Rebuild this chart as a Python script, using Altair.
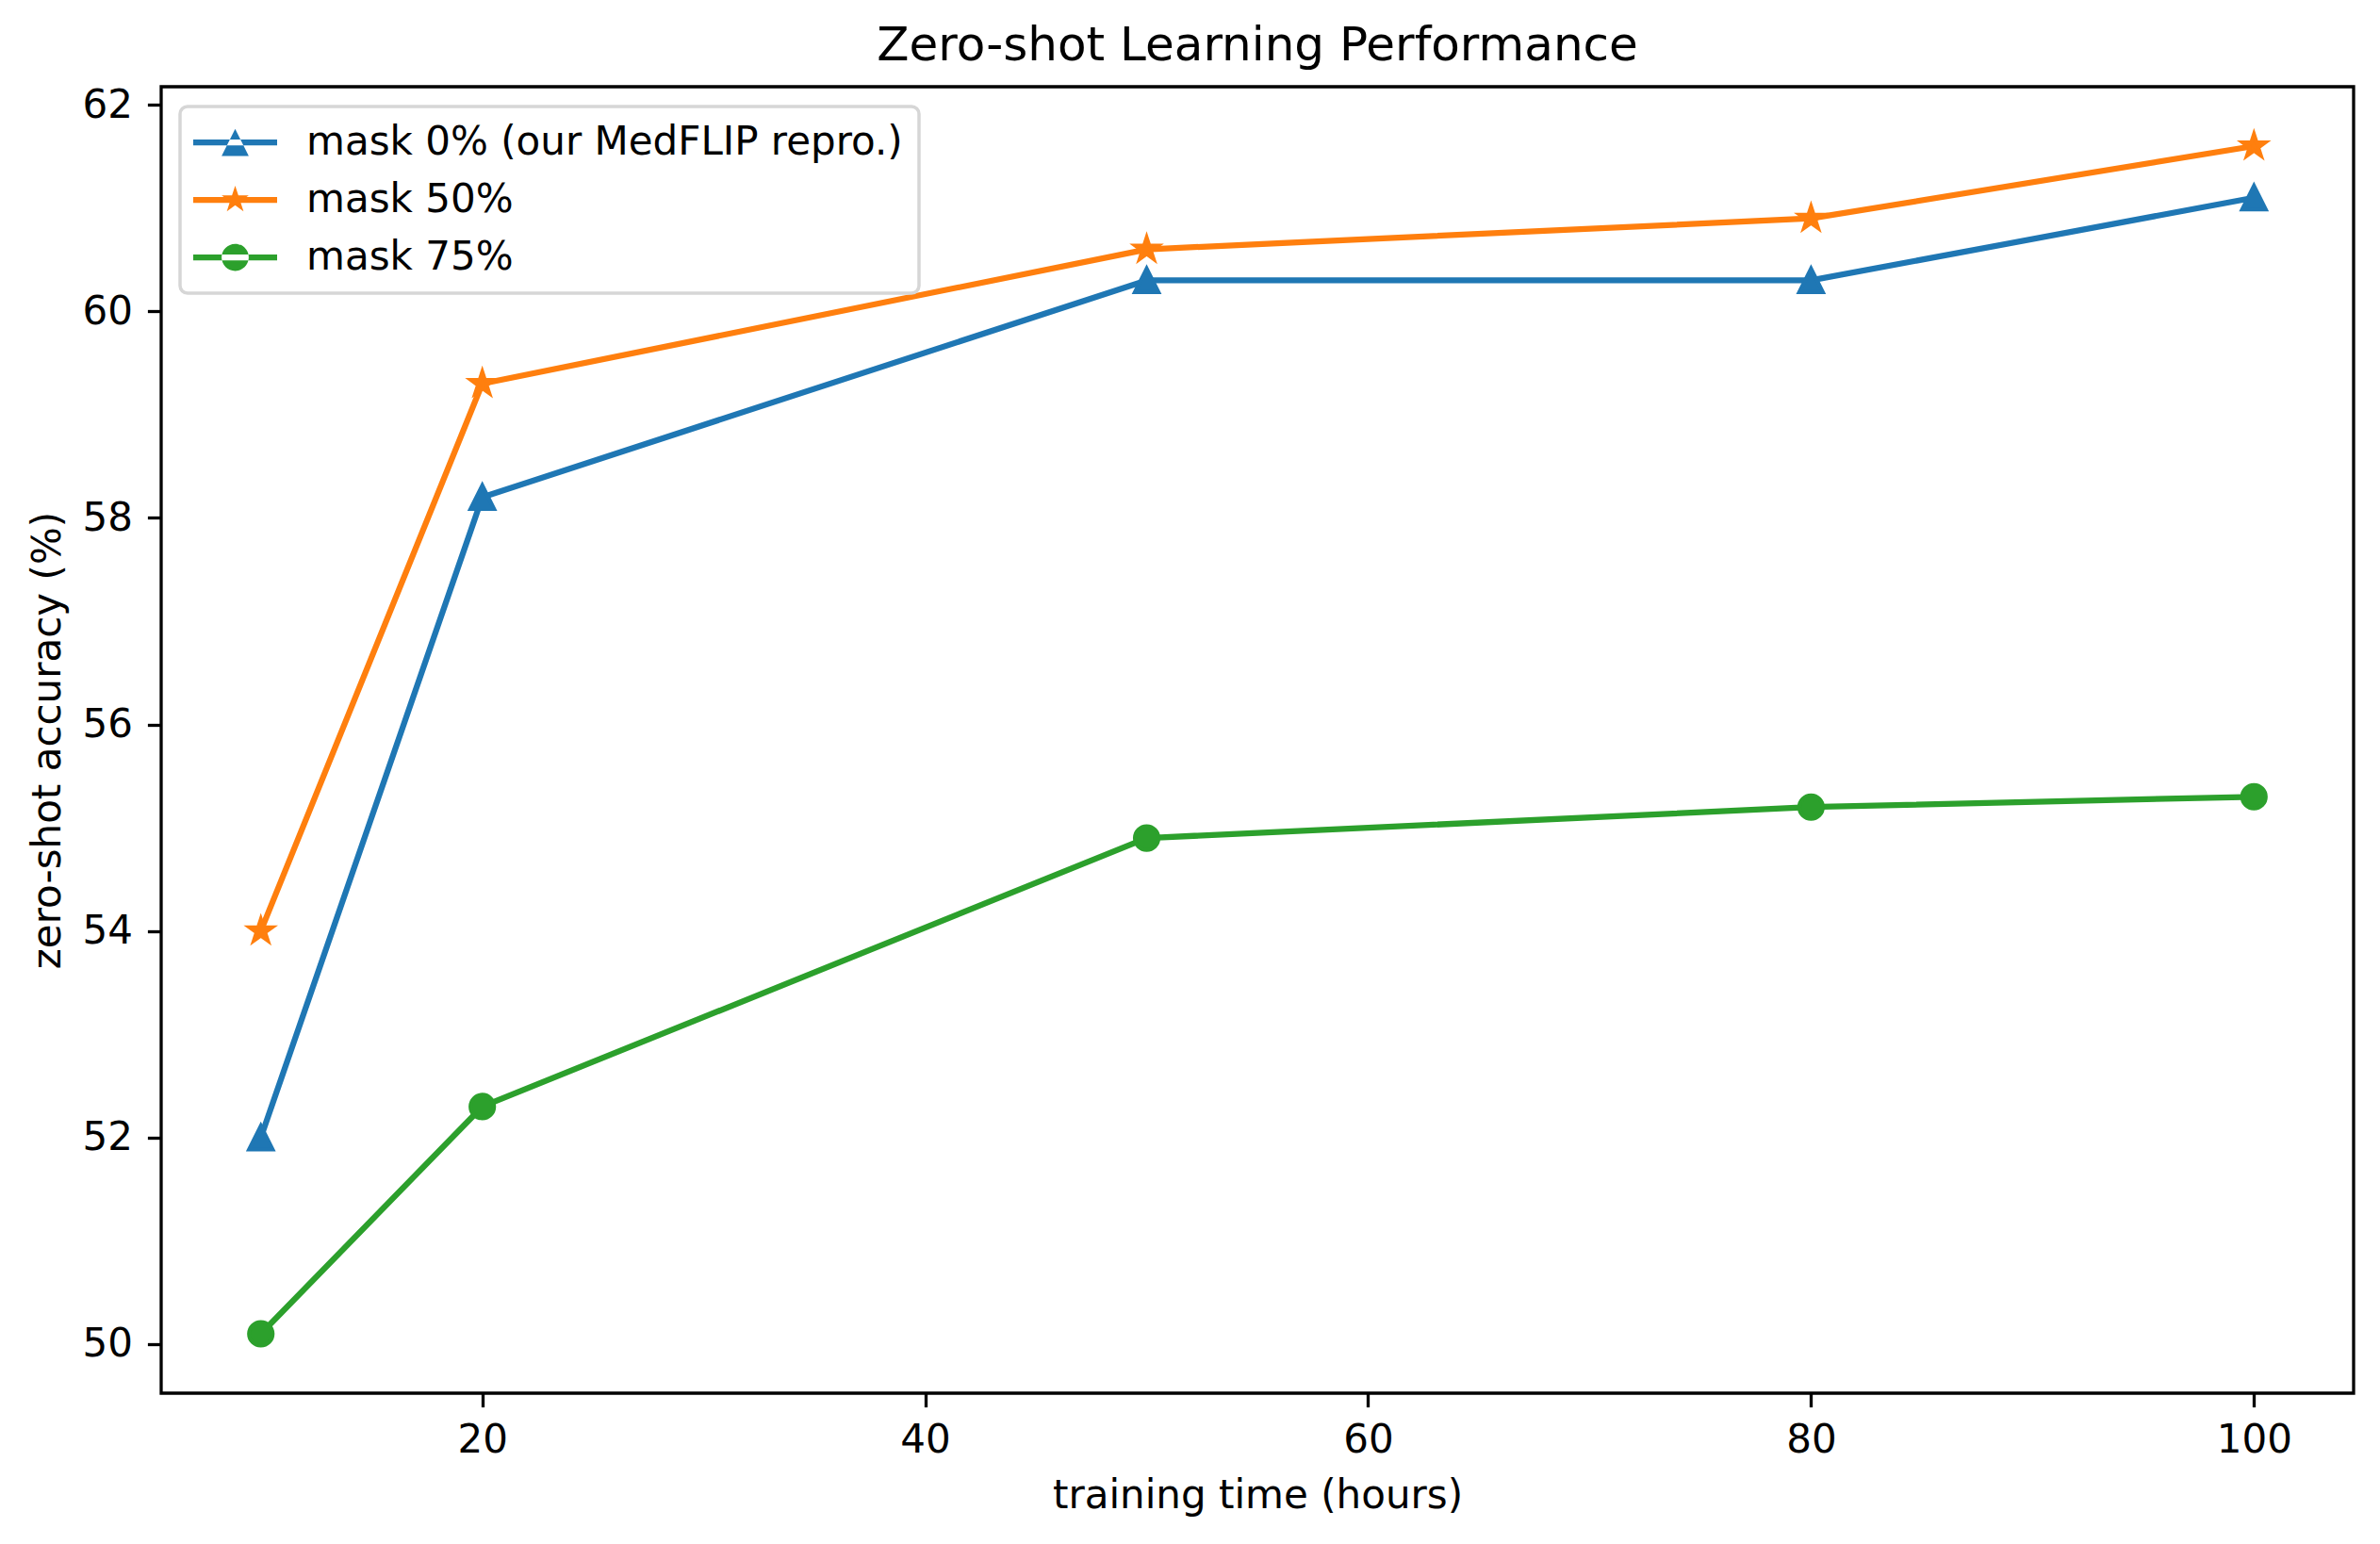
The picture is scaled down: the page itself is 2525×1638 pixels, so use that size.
import math
import altair as alt
import pandas as pd

# ---------------- data ----------------
hours = [10, 20, 50, 80, 100]
mask0 = [52.0, 58.2, 60.3, 60.3, 61.1]
mask50 = [54.0, 59.3, 60.6, 60.9, 61.6]
mask75 = [50.1, 52.3, 54.9, 55.2, 55.3]
series_names = ["mask 0% (our MedFLIP repro.)", "mask 50%", "mask 75%"]
colors = ["#1f77b4", "#ff7f0e", "#2ca02c"]
x_ticks = [20, 40, 60, 80, 100]
y_ticks = [50, 52, 54, 56, 58, 60, 62]

rows = []
for name, vals in zip(series_names, [mask0, mask50, mask75]):
    for h, v in zip(hours, vals):
        rows.append({"hours": h, "acc": v, "series": name})
df = pd.DataFrame(rows)

FONT = "DejaVu Sans"


# ---------------- marker shapes (matplotlib geometry, unit box) ----------------
def f(v):
    return f"{v:.4f}"


def tri_path(s=1.0, dx=0.0):
    return f"M{f(dx)},{f(-s)}L{f(dx - s)},{f(s)}L{f(dx + s)},{f(s)}Z"


def star_path(s=1.0, dx=0.0):
    pts = []
    for k in range(10):
        r = s if k % 2 == 0 else s * 0.381966
        th = math.radians(36 * k)
        pts.append((dx + r * math.sin(th), -r * math.cos(th)))
    return "M" + "L".join(f"{f(x)},{f(y)}" for x, y in pts) + "Z"


def circle_path(s=1.0, dx=0.0):
    return (f"M{f(dx - s)},0A{f(s)},{f(s)} 0 1,0 {f(dx + s)},0"
            f"A{f(s)},{f(s)} 0 1,0 {f(dx - s)},0Z")


def seg_path(dx, half_len, half_w):
    return (f"M{f(dx - half_len)},{f(-half_w)}L{f(dx + half_len)},{f(-half_w)}"
            f"L{f(dx + half_len)},{f(half_w)}L{f(dx - half_len)},{f(half_w)}Z")


marker_paths = [tri_path(), star_path(), "circle"]

LEG_DX = 1.64
LEG_S = 1.15
legend_paths = [
    seg_path(LEG_DX, 3.56, 0.25) + tri_path(LEG_S, LEG_DX),
    seg_path(LEG_DX, 3.56, 0.25) + star_path(LEG_S * 1.05, LEG_DX),
    seg_path(LEG_DX, 3.56, 0.25) + circle_path(LEG_S, LEG_DX),
]

x_enc = alt.X(
    "hours:Q",
    scale=alt.Scale(domain=[5.5, 104.5], nice=False, zero=False),
    axis=alt.Axis(values=x_ticks, format="d", title="training time (hours)",
                  titleY=121, titleBaseline="alphabetic", labelPadding=14.5),
)
y_enc = alt.Y(
    "acc:Q",
    scale=alt.Scale(domain=[49.525, 62.175], nice=False, zero=False),
    axis=alt.Axis(values=y_ticks, format="d", title="zero-shot accuracy (%)",
                  titleX=-108, titleBaseline="alphabetic", labelPadding=16),
)

base = alt.Chart(df)

layers = []
for name, col, shp in zip(series_names, colors, marker_paths):
    sub = base.transform_filter(alt.datum.series == name)
    layers.append(
        sub.mark_line(strokeWidth=6.25, strokeJoin="round", color=col, opacity=1)
        .encode(x=x_enc, y=y_enc)
    )
    layers.append(
        sub.mark_point(shape=shp, filled=True, fill=col, stroke=col,
                       strokeWidth=4.17, size=625, opacity=1)
        .encode(x=x_enc, y=y_enc)
    )

leg = alt.Legend(
    title=None, orient="none", legendX=20, legendY=21, padding=17,
    rowPadding=19, labelFont=FONT, labelFontSize=42, labelColor="black",
    labelOffset=75, labelLimit=3000, symbolSize=625, symbolStrokeWidth=0,
    symbolOpacity=1, strokeColor="#d6d6d6", cornerRadius=8,
    fillColor="rgba(255,255,255,0.8)",
)

legend_layer = base.transform_filter("false").mark_point(
    filled=True, opacity=1, size=625
).encode(
    x=x_enc, y=y_enc,
    color=alt.Color("series:N",
                    scale=alt.Scale(domain=series_names, range=colors),
                    legend=leg),
    shape=alt.Shape("series:N",
                    scale=alt.Scale(domain=series_names, range=legend_paths),
                    legend=leg),
)
layers.append(legend_layer)

chart = alt.layer(*layers).properties(
    width=2326,
    height=1386,
    padding={"left": 163, "top": 84, "right": 12, "bottom": 140},
    autosize=alt.AutoSizeParams(type="none"),
    title=alt.TitleParams(
        "Zero-shot Learning Performance", fontSize=50, font=FONT,
        fontWeight="normal", anchor="middle", baseline="bottom", offset=14,
        dy=48, color="black",
    ),
).configure_view(
    stroke="black", strokeWidth=3.3,
).configure_axis(
    labelFont=FONT, titleFont=FONT, labelFontSize=42, titleFontSize=42,
    labelColor="black", titleColor="black", tickColor="black",
    tickWidth=3.3, tickSize=14.6, domain=False, grid=False,
    titleFontWeight="normal", labelFlush=False, labelOverlap=False,
).configure_legend(
    strokeWidth=3.5,
)

chart.save("out.html", embed_options={"renderer": "svg", "actions": False})
